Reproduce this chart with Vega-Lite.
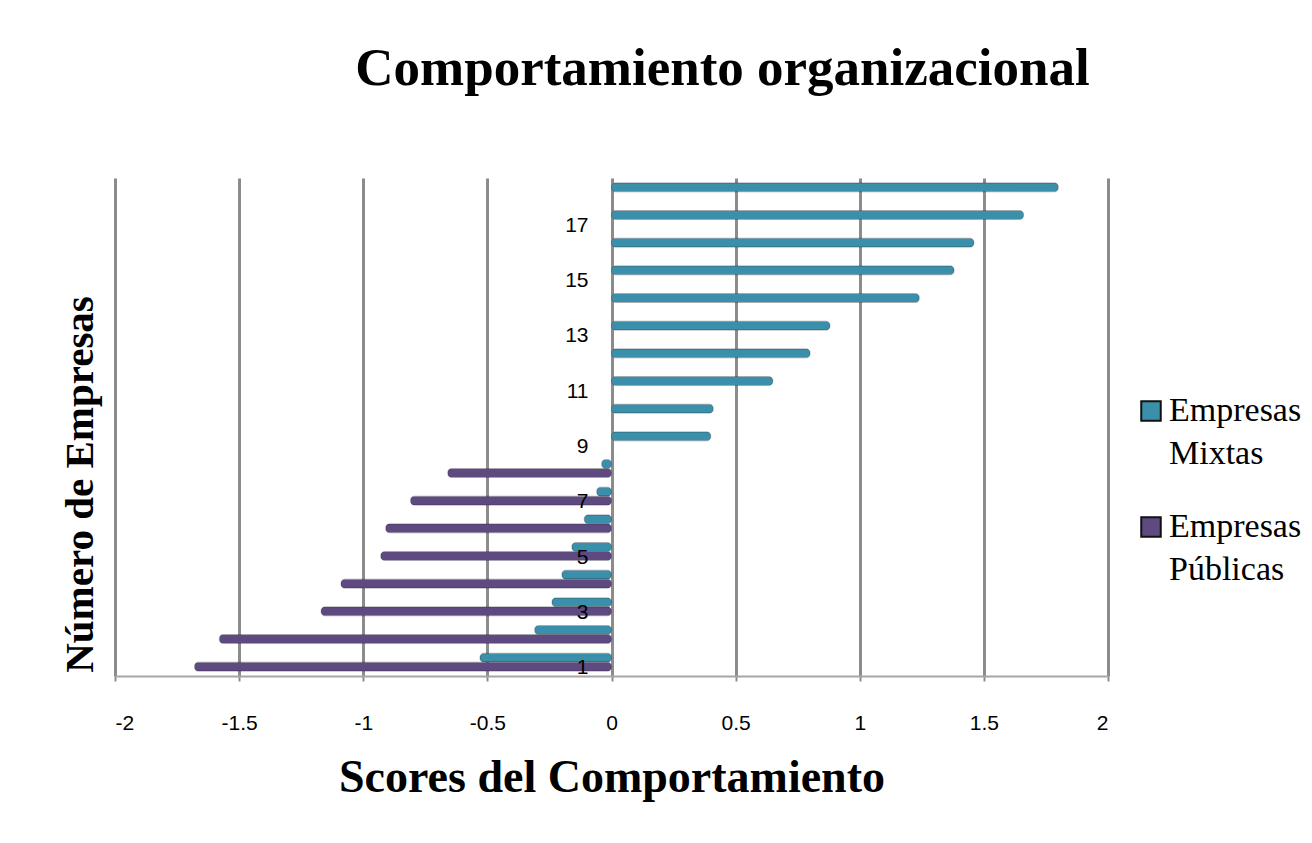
{
  "$schema": "https://vega.github.io/schema/vega-lite/v6.json",
  "width": 993,
  "height": 498,
  "autosize": {"type": "none"},
  "padding": {"left": 115, "top": 178, "right": 204, "bottom": 167},
  "background": "white",
  "title": {
    "text": "Comportamiento organizacional",
    "font": "Liberation Serif",
    "fontSize": 53,
    "fontWeight": "bold",
    "color": "black",
    "anchor": "middle",
    "dx": 111,
    "offset": 82
  },
  "data": {
    "values": [
      {"empresa": 1, "tipo": "Empresas Mixtas", "score": -0.53},
      {"empresa": 1, "tipo": "Empresas Públicas", "score": -1.68},
      {"empresa": 2, "tipo": "Empresas Mixtas", "score": -0.31},
      {"empresa": 2, "tipo": "Empresas Públicas", "score": -1.58},
      {"empresa": 3, "tipo": "Empresas Mixtas", "score": -0.24},
      {"empresa": 3, "tipo": "Empresas Públicas", "score": -1.17},
      {"empresa": 4, "tipo": "Empresas Mixtas", "score": -0.2},
      {"empresa": 4, "tipo": "Empresas Públicas", "score": -1.09},
      {"empresa": 5, "tipo": "Empresas Mixtas", "score": -0.16},
      {"empresa": 5, "tipo": "Empresas Públicas", "score": -0.93},
      {"empresa": 6, "tipo": "Empresas Mixtas", "score": -0.11},
      {"empresa": 6, "tipo": "Empresas Públicas", "score": -0.91},
      {"empresa": 7, "tipo": "Empresas Mixtas", "score": -0.06},
      {"empresa": 7, "tipo": "Empresas Públicas", "score": -0.81},
      {"empresa": 8, "tipo": "Empresas Mixtas", "score": -0.04},
      {"empresa": 8, "tipo": "Empresas Públicas", "score": -0.66},
      {"empresa": 9, "tipo": "Empresas Mixtas", "score": 0.4},
      {"empresa": 10, "tipo": "Empresas Mixtas", "score": 0.41},
      {"empresa": 11, "tipo": "Empresas Mixtas", "score": 0.65},
      {"empresa": 12, "tipo": "Empresas Mixtas", "score": 0.8},
      {"empresa": 13, "tipo": "Empresas Mixtas", "score": 0.88},
      {"empresa": 14, "tipo": "Empresas Mixtas", "score": 1.24},
      {"empresa": 15, "tipo": "Empresas Mixtas", "score": 1.38},
      {"empresa": 16, "tipo": "Empresas Mixtas", "score": 1.46},
      {"empresa": 17, "tipo": "Empresas Mixtas", "score": 1.66},
      {"empresa": 18, "tipo": "Empresas Mixtas", "score": 1.8}
    ]
  },
  "mark": {"type": "bar", "cornerRadius": 4, "stroke": "#2b2b3a", "strokeWidth": 0.6, "strokeOpacity": 0.5},
  "encoding": {
    "x": {
      "field": "score",
      "type": "quantitative",
      "scale": {"domain": [-2, 2], "nice": false, "zero": false},
      "axis": {
        "values": [-2, -1.5, -1, -0.5, 0, 0.5, 1, 1.5, 2],
        "labelExpr": "'' + datum.value",
        "title": "Scores del Comportamiento",
        "titleFont": "Liberation Serif",
        "titleFontSize": 46,
        "titleFontWeight": "bold",
        "titleColor": "black",
        "titlePadding": 22,
        "labelFont": "Liberation Sans Narrow, Liberation Sans",
        "labelFontSize": 21,
        "labelColor": "black",
        "labelPadding": 31,
        "tickSize": 5,
        "tickColor": "#8c8c8c",
        "tickWidth": 2,
        "domainColor": "#a6a6a6",
        "domainWidth": 2,
        "grid": true,
        "gridColor": "#8c8c8c",
        "gridWidth": 3
      }
    },
    "y": {
      "field": "empresa",
      "type": "ordinal",
      "sort": "descending",
      "scale": {"paddingInner": 0.35, "paddingOuter": 0.175},
      "axis": {
        "values": [1, 3, 5, 7, 9, 11, 13, 15, 17],
        "offset": -497,
        "zindex": 1,
        "domain": false,
        "ticks": false,
        "labelPadding": 24,
        "labelFont": "Liberation Sans Narrow, Liberation Sans",
        "labelFontSize": 21,
        "labelColor": "black",
        "labelOffset": 6,
        "title": "Número de Empresas",
        "titleFont": "Liberation Serif",
        "titleFontSize": 41,
        "titleFontWeight": "bold",
        "titleColor": "black",
        "titleX": -532,
        "titleY": 306,
        "titleAngle": 270,
        "titleAlign": "center",
        "titleBaseline": "middle"
      }
    },
    "yOffset": {
      "field": "tipo",
      "type": "nominal",
      "sort": ["Empresas Mixtas", "Empresas Públicas"]
    },
    "color": {
      "field": "tipo",
      "type": "nominal",
      "scale": {
        "domain": ["Empresas Mixtas", "Empresas Públicas"],
        "range": ["#3a90aa", "#5e4981"]
      },
      "legend": {
        "title": null,
        "orient": "none",
        "legendX": 1019,
        "legendY": 216,
        "symbolType": "square",
        "symbolSize": 380,
        "symbolStrokeColor": "#111111",
        "symbolStrokeWidth": 2,
        "labelFont": "Liberation Serif",
        "labelFontSize": 34,
        "labelColor": "black",
        "labelExpr": "split(datum.label, ' ')",
        "labelLimit": 300,
        "rowPadding": 39,
        "labelOffset": 1,
        "encode": {"labels": {"update": {"lineHeight": {"value": 43}}}}
      }
    }
  },
  "config": {"view": {"stroke": null}}
}
